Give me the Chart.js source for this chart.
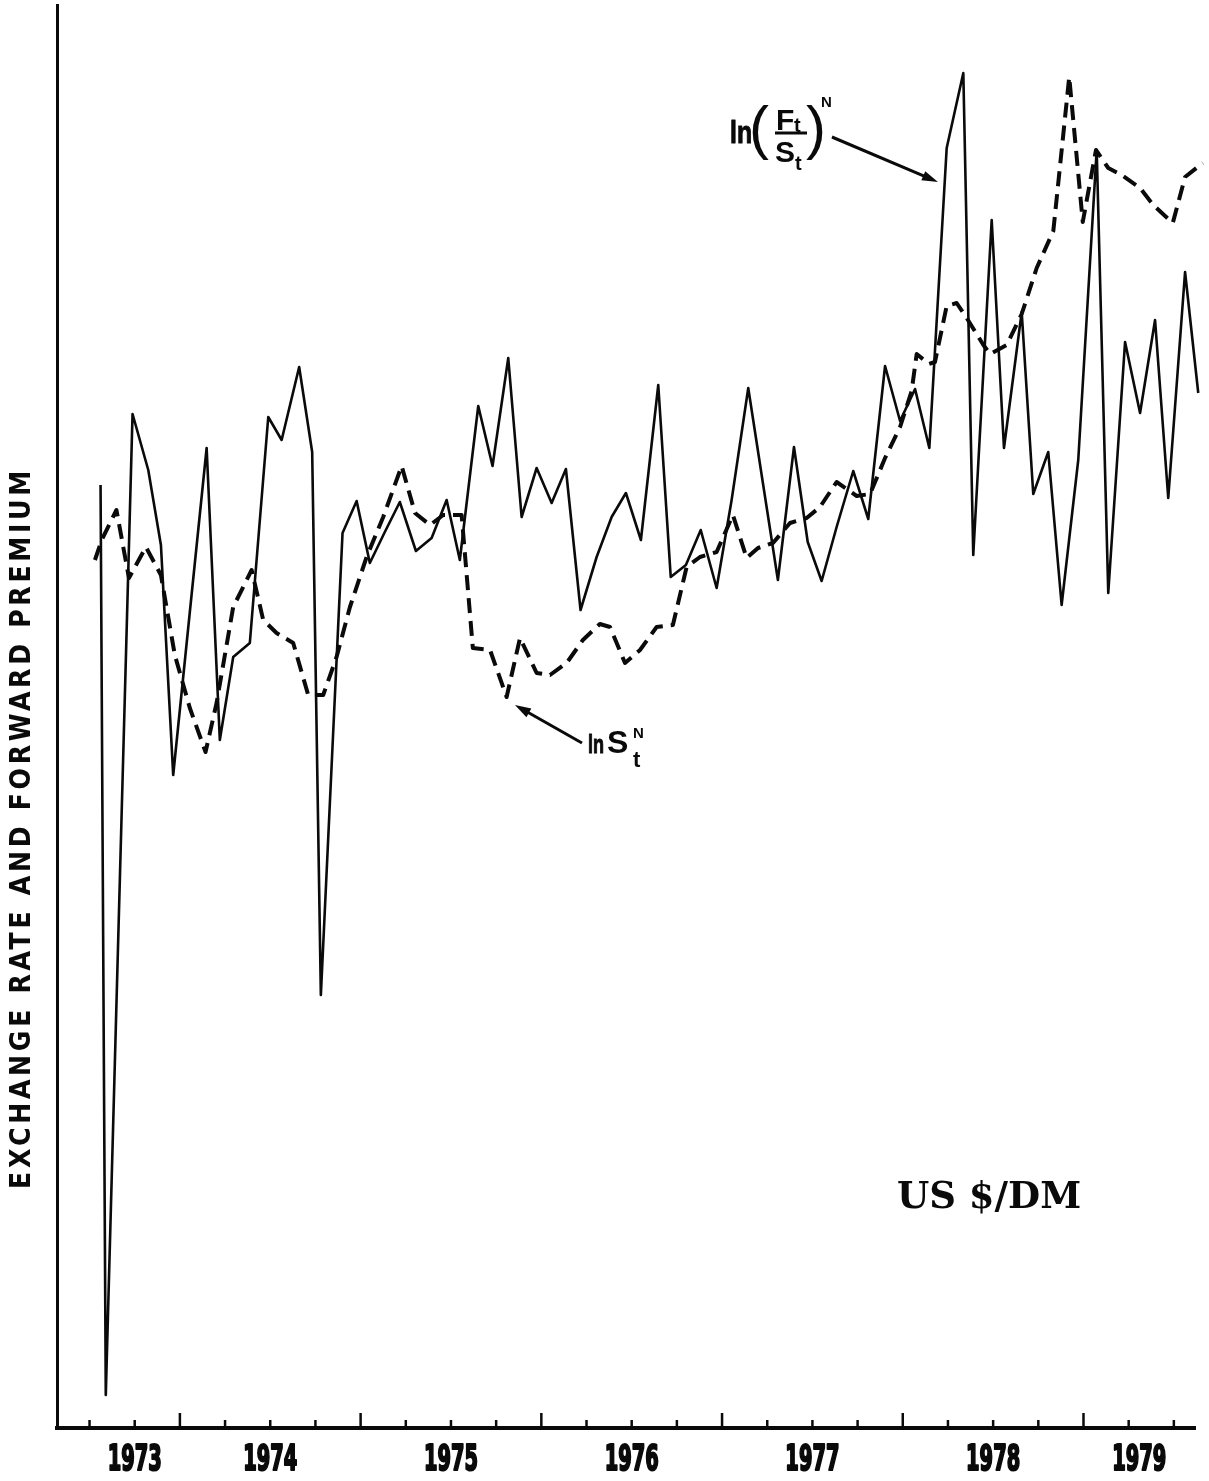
<!DOCTYPE html>
<html><head><meta charset="utf-8">
<script src="https://cdn.jsdelivr.net/npm/chart.js@4.4.1/dist/chart.umd.min.js"></script>
<style>html,body{margin:0;padding:0;background:#fff;} canvas{display:block;}</style>
</head><body>
<canvas id="c" width="1209" height="1481"></canvas>
<script>
// ---- data (x in decimal years, y in arbitrary chart units) ----
const yearLabels = ['1973','1974','1975','1976','1977','1978','1979'];
const yearStarts = [1973, 1974, 1975, 1976, 1977, 1978, 1979];

// ln(F_t/S_t)^N  (solid line)
const premiumDates = [1973.561,1973.590,1973.738,1973.825,1973.895,1973.963,1974.055,1974.148,1974.221,1974.295,
 1974.387,1974.489,1974.563,1974.660,1974.732,1974.780,1974.900,1974.978,1975.051,1975.134,
 1975.217,1975.306,1975.393,1975.476,1975.549,1975.651,1975.730,1975.817,1975.891,1975.974,
 1976.057,1976.136,1976.217,1976.306,1976.389,1976.468,1976.551,1976.647,1976.716,1976.800,
 1976.882,1976.970,1977.053,1977.145,1977.226,1977.309,1977.398,1977.474,1977.551,1977.634,
 1977.726,1977.809,1977.902,1977.985,1978.068,1978.147,1978.243,1978.335,1978.390,1978.492,
 1978.560,1978.658,1978.722,1978.805,1978.879,1978.971,1979.073,1979.137,1979.230,1979.313,
 1979.396,1979.469,1979.562,1979.635];
const premiumValues = [94.3,3.3,101.4,95.8,88.3,65.3,81.6,98.0,68.8,77.1,
 78.5,101.1,98.8,106.1,97.6,43.3,89.5,92.7,86.5,89.6,
 92.6,87.7,89.0,92.8,86.8,102.2,96.2,107.0,91.1,96.0,
 92.5,95.9,81.8,87.1,91.1,93.5,88.8,104.3,85.1,86.3,
 89.8,84.0,92.8,104.0,94.5,84.8,98.1,88.6,84.7,90.1,
 95.7,90.9,106.2,100.7,103.9,98.0,128.0,135.5,87.3,120.8,
 98.0,111.6,93.4,97.6,82.3,96.8,127.8,83.5,108.6,101.5,
 110.8,93.0,115.6,103.5];

// ln S_t^N  (dashed line)
const spotDates = [1973.530,1973.567,1973.649,1973.718,1973.812,1973.895,1973.972,1974.055,1974.142,1974.203,
 1974.295,1974.397,1974.461,1974.535,1974.627,1974.710,1974.793,1974.867,1974.941,1975.033,
 1975.125,1975.227,1975.301,1975.384,1975.457,1975.559,1975.621,1975.716,1975.808,1975.882,
 1975.974,1976.048,1976.140,1976.230,1976.324,1976.380,1976.463,1976.546,1976.638,1976.728,
 1976.804,1976.878,1976.970,1977.060,1977.136,1977.199,1977.282,1977.376,1977.468,1977.542,
 1977.634,1977.745,1977.819,1977.902,1977.985,1978.049,1978.077,1978.145,1978.178,1978.243,
 1978.298,1978.354,1978.446,1978.483,1978.575,1978.658,1978.741,1978.833,1978.921,1978.996,
 1979.069,1979.137,1979.211,1979.313,1979.386,1979.494,1979.562,1979.660];
const spotValues = [86.8,88.8,91.8,85.0,88.1,85.3,77.3,72.0,67.6,72.5,
 82.1,85.8,80.8,79.5,78.5,73.3,73.3,77.1,82.1,87.1,
 91.1,96.2,91.5,90.3,91.3,91.3,78.0,77.8,73.1,79.0,
 75.5,75.3,76.5,78.8,80.4,80.1,76.5,77.8,80.1,80.3,
 86.1,87.1,87.6,91.3,87.0,88.0,88.5,90.5,91.0,92.1,
 94.6,93.2,93.4,97.0,100.1,103.7,107.4,106.4,106.6,112.2,
 112.5,111.0,108.3,107.4,108.3,111.4,116.0,119.7,135.1,120.6,
 127.8,126.0,125.3,124.0,122.3,120.5,125.1,126.5];

const X_MIN = 1973.32, X_MAX = 1979.617;
const Y_MIN = 0, Y_MAX = 142.3;
const QUARTER_FIRST = 1973.5, QUARTER_LAST = 1979.5;

const INK = '#0a0a0a';
const COND = '"DejaVu Sans Condensed", "DejaVu Sans", sans-serif';
const SANS = '"Liberation Sans", Arial, sans-serif';

// year label placed in the middle of the ticked/visible part of that year
const labelValues = yearStarts.map(s => (Math.max(s, QUARTER_FIRST) + Math.min(s + 1, X_MAX)) / 2);

function txt(ctx, s, x, y, font, sx, stroke) {
  ctx.save();
  ctx.translate(x, y);
  ctx.scale(sx || 1, 1);
  ctx.font = font;
  ctx.fillText(s, 0, 0);
  if (stroke) { ctx.lineWidth = stroke; ctx.lineJoin = 'round'; ctx.strokeText(s, 0, 0); }
  ctx.restore();
}

function arrow(ctx, x1, y1, x2, y2, head, half) {
  const a = Math.atan2(y2 - y1, x2 - x1);
  const c = Math.cos(a), s = Math.sin(a);
  ctx.beginPath();
  ctx.moveTo(x1, y1);
  ctx.lineTo(x2 - c * head * 0.7, y2 - s * head * 0.7);
  ctx.stroke();
  ctx.beginPath();
  ctx.moveTo(x2, y2);
  ctx.lineTo(x2 - head * c + half * s, y2 - head * s - half * c);
  ctx.lineTo(x2 - head * c - half * s, y2 - head * s + half * c);
  ctx.closePath();
  ctx.fill();
}

const decor = {
  id: 'decor',
  afterDraw(chart) {
    const {ctx, scales: {x, y}, chartArea} = chart;
    ctx.save();
    ctx.strokeStyle = INK; ctx.fillStyle = INK;

    // quarterly tick marks pointing up from the time axis, taller at year boundaries
    ctx.lineWidth = 2.5;
    for (let t = QUARTER_FIRST; t <= QUARTER_LAST + 1e-9; t += 0.25) {
      const px = x.getPixelForValue(t);
      const len = Math.abs(t - Math.round(t)) < 1e-6 ? 15 : 8;
      ctx.beginPath();
      ctx.moveTo(px, chartArea.bottom);
      ctx.lineTo(px, chartArea.bottom - len);
      ctx.stroke();
    }

    // year labels (compressed heavy face, as in the original)
    ctx.textAlign = 'center'; ctx.textBaseline = 'middle';
    labelValues.forEach((v, i) => {
      txt(ctx, yearLabels[i], x.getPixelForValue(v), chartArea.bottom + 33, 'bold 36px ' + COND, 0.6, 2.2);
    });

    // vertical axis title
    ctx.save();
    ctx.translate(23, 828);
    ctx.rotate(-Math.PI / 2);
    ctx.font = 'bold 28px ' + COND;
    ctx.textAlign = 'center'; ctx.textBaseline = 'middle';
    const title = 'EXCHANGE RATE AND FORWARD PREMIUM';
    ctx.letterSpacing = '0px';
    const w0 = ctx.measureText(title).width;
    ctx.letterSpacing = Math.max(0, (722 - w0) / title.length).toFixed(2) + 'px';
    ctx.fillText(title, 0, 0);
    ctx.restore();
    ctx.letterSpacing = '0px';

    ctx.textAlign = 'left'; ctx.textBaseline = 'alphabetic';

    // label: ln (F_t / S_t)^N
    const ax = x.getPixelForValue(1977.044), ay = y.getPixelForValue(129.5);
    txt(ctx, 'ln', ax, ay + 10, 'bold 31px ' + SANS, 0.8, 1);
    txt(ctx, '(', ax + 19, ay + 15, '60px ' + SANS, 1);
    txt(ctx, 'F', ax + 46, ay - 3, 'bold 30px ' + SANS, 1);
    txt(ctx, 't', ax + 64, ay - 1, 'bold 20px ' + SANS, 1);
    ctx.lineWidth = 3;
    ctx.beginPath(); ctx.moveTo(ax + 45, ay); ctx.lineTo(ax + 77, ay); ctx.stroke();
    txt(ctx, 'S', ax + 45, ay + 29, 'bold 30px ' + SANS, 1);
    txt(ctx, 't', ax + 65, ay + 37, 'bold 20px ' + SANS, 1);
    txt(ctx, ')', ax + 76, ay + 15, '60px ' + SANS, 1);
    txt(ctx, 'N', ax + 91, ay - 26, 'bold 15px ' + SANS, 1);
    ctx.lineWidth = 3;
    arrow(ctx, x.getPixelForValue(1977.608), y.getPixelForValue(129.1),
               x.getPixelForValue(1978.195), y.getPixelForValue(124.6), 16, 5);

    // label: ln S_t^N
    const bx = x.getPixelForValue(1976.258), by = y.getPixelForValue(67.5);
    txt(ctx, 'ln', bx, by, 'bold 25px ' + SANS, 0.72, 1);
    txt(ctx, 'S', bx + 19, by, 'bold 32px ' + SANS, 1);
    txt(ctx, 'N', bx + 45, by - 15, 'bold 15px ' + SANS, 1);
    txt(ctx, 't', bx + 45, by + 14, 'bold 22px ' + SANS, 1);
    ctx.lineWidth = 3;
    arrow(ctx, x.getPixelForValue(1976.225), y.getPixelForValue(68.5),
               x.getPixelForValue(1975.854), y.getPixelForValue(72.3), 16, 5);

    // currency pair
    txt(ctx, 'US $/DM', x.getPixelForValue(1977.968), y.getPixelForValue(22.0),
        'bold 37px "DejaVu Serif", "Liberation Serif", serif', 1);
    ctx.restore();
  }
};

new Chart(document.getElementById('c'), {
  type: 'line',
  data: {
    datasets: [
      {
        label: 'ln(Ft/St)^N',
        data: premiumDates.map((d, i) => ({x: d, y: premiumValues[i]})),
        borderColor: INK, borderWidth: 2.6, pointRadius: 0, tension: 0,
        borderJoinStyle: 'round', clip: false
      },
      {
        label: 'ln St^N',
        data: spotDates.map((d, i) => ({x: d, y: spotValues[i]})),
        borderColor: INK, borderWidth: 4, borderDash: [15, 8], pointRadius: 0, tension: 0,
        borderJoinStyle: 'round', clip: false
      }
    ]
  },
  options: {
    responsive: false, devicePixelRatio: 1, animation: false,
    layout: {padding: {top: 5, right: 14, left: 0, bottom: 0}},
    plugins: {legend: {display: false}, tooltip: {enabled: false}},
    scales: {
      x: {
        type: 'linear', min: X_MIN, max: X_MAX,
        grid: {display: false, drawTicks: false},
        border: {display: true, color: INK, width: 4},
        ticks: {display: false},
        afterFit(s) { s.height = 53; }
      },
      y: {
        type: 'linear', min: Y_MIN, max: Y_MAX,
        grid: {display: false, drawTicks: false},
        border: {display: true, color: INK, width: 3},
        ticks: {display: false},
        afterFit(s) { s.width = 57; }
      }
    }
  },
  plugins: [decor]
});
</script>
</body></html>
